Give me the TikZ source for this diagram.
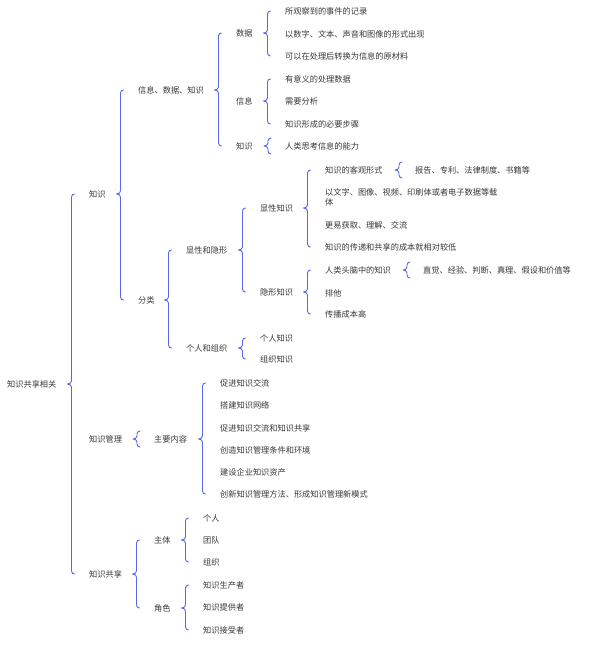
\documentclass[tikz,border=0pt]{standalone}
\usepackage{fontspec}
\newfontfamily\cjk{Noto Sans CJK SC}
\usetikzlibrary{calc}
\definecolor{brcol}{HTML}{5A66EE}
\definecolor{txt}{HTML}{383838}
\tikzset{
  lbl/.style={anchor=west,inner sep=0pt,text=txt,font=\cjk\fontsize{8.2}{10}\selectfont},
  brc/.style={draw=brcol,line width=0.9pt,line cap=round,line join=round}
}
\newcommand\brc[4][17.5pt]{\draw[brc] let \p1=(#2.east), \p2=(#3.west), \p3=(#4.west) in
  ({\x2-#1+3pt},\y2) to[out=180,in=90] ({\x2-#1},{\y2-3pt}) -- ({\x2-#1},{\y1+3pt})
  to[out=-90,in=0] ({\x2-#1-4pt},\y1) to[out=0,in=90] ({\x2-#1},{\y1-3pt})
  -- ({\x2-#1},{\y3+3pt}) to[out=-90,in=180] ({\x2-#1+3pt},\y3);}
\newcommand\brcs[3][17pt]{\draw[brc] let \p1=(#2.east), \p2=(#3.west) in
  ({\x2-#1+3pt},{\y2+8pt}) to[out=180,in=90] ({\x2-#1},{\y2+5pt}) -- ({\x2-#1},{\y1+3pt})
  to[out=-90,in=0] ({\x2-#1-4pt},\y1) to[out=0,in=90] ({\x2-#1},{\y1-3pt})
  -- ({\x2-#1},{\y2-5pt}) to[out=-90,in=180] ({\x2-#1+3pt},{\y2-8pt});}
\begin{document}
\begin{tikzpicture}[x=1pt,y=-1pt]
\fill[white] (0,0) rectangle (600,646);
\useasboundingbox (0,0) rectangle (600,646);
% root and level 1
\node[lbl] (n0) at (7,384) {知识共享相关};
\node[lbl] (k) at (89,194) {知识};
\node[lbl] (km) at (89,439) {知识管理};
\node[lbl] (ks) at (89,574) {知识共享};
% under 知识
\node[lbl] (xsz) at (138,90) {信息、数据、知识};
\node[lbl] (fl) at (138,300) {分类};
\node[lbl] (sj) at (236,33) {数据};
\node[lbl] (xx) at (236,101) {信息};
\node[lbl] (zs) at (236,146) {知识};
\node[lbl] (sj1) at (285,11) {所观察到的事件的记录};
\node[lbl] (sj2) at (285,34) {以数字、文本、声音和图像的形式出现};
\node[lbl] (sj3) at (285,56) {可以在处理后转换为信息的原材料};
\node[lbl] (xx1) at (285,79) {有意义的处理数据};
\node[lbl] (xx2) at (285,101) {需要分析};
\node[lbl] (xx3) at (285,124) {知识形成的必要步骤};
\node[lbl] (zs1) at (285,146) {人类思考信息的能力};
% 分类
\node[lbl] (xy) at (186,250) {显性和隐形};
\node[lbl] (gr) at (186,348) {个人和组织};
\node[lbl] (xk) at (260,208) {显性知识};
\node[lbl] (yk) at (260,292) {隐形知识};
\node[lbl] (xk1) at (325,170) {知识的客观形式};
\node[lbl,align=left] (xk2) at (325,197) {以文字、图像、视频、印刷体或者电子数据等载\\体};
\node[lbl] (xk3) at (325,225) {更易获取、理解、交流};
\node[lbl] (xk4) at (325,247) {知识的传递和共享的成本就相对较低};
\node[lbl] (xk1a) at (415,170) {报告、专利、法律制度、书籍等};
\node[lbl] (yk1) at (325,270) {人类头脑中的知识};
\node[lbl] (yk2) at (325,293) {排他};
\node[lbl] (yk3) at (325,314) {传播成本高};
\node[lbl] (yk1a) at (423,270) {直觉、经验、判断、真理、假设和价值等};
\node[lbl] (gr1) at (260,338) {个人知识};
\node[lbl] (gr2) at (260,359) {组织知识};
% 知识管理
\node[lbl] (zy) at (154,439) {主要内容};
\node[lbl] (zy1) at (220,383) {促进知识交流};
\node[lbl] (zy2) at (220,405) {搭建知识网络};
\node[lbl] (zy3) at (220,428) {促进知识交流和知识共享};
\node[lbl] (zy4) at (220,450) {创造知识管理条件和环境};
\node[lbl] (zy5) at (220,472) {建设企业知识资产};
\node[lbl] (zy6) at (220,494) {创新知识管理方法、形成知识管理新模式};
% 知识共享
\node[lbl] (zt) at (154,540) {主体};
\node[lbl] (js) at (154,608) {角色};
\node[lbl] (zt1) at (203,518) {个人};
\node[lbl] (zt2) at (203,540) {团队};
\node[lbl] (zt3) at (203,562) {组织};
\node[lbl] (js1) at (203,585) {知识生产者};
\node[lbl] (js2) at (203,607) {知识提供者};
\node[lbl] (js3) at (203,630) {知识接受者};
% braces
\brc{n0}{k}{ks}
\brc{k}{xsz}{fl}
\brc{xsz}{sj}{zs}
\brc{sj}{sj1}{sj3}
\brc{xx}{xx1}{xx3}
\brcs{zs}{zs1}
\brc{fl}{xy}{gr}
\brc{xy}{xk}{yk}
\brc{xk}{xk1}{xk4}
\brcs[16pt]{xk1}{xk1a}
\brc{yk}{yk1}{yk3}
\brcs[16pt]{yk1}{yk1a}
\brc{gr}{gr1}{gr2}
\brcs{km}{zy}
\brc{zy}{zy1}{zy6}
\brc{ks}{zt}{js}
\brc{zt}{zt1}{zt3}
\brc{js}{js1}{js3}
\end{tikzpicture}
\end{document}
